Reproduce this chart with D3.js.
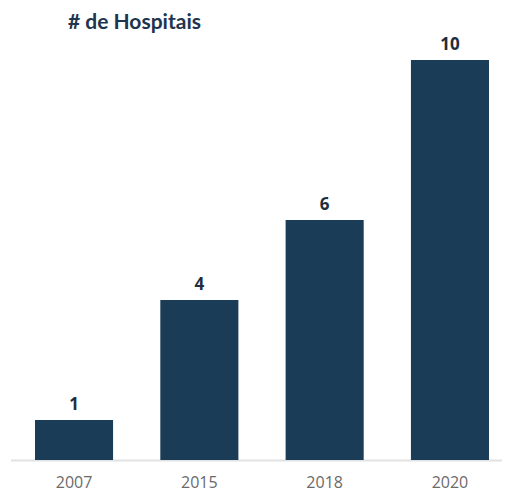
<!DOCTYPE html>
<html><head><meta charset="utf-8">
<script src="https://cdn.jsdelivr.net/npm/d3@7"></script>
<style>body{margin:0;background:#fff}</style>
</head><body>
<svg id="c" width="507" height="493"></svg>
<script>
const categories = ["2007", "2015", "2018", "2020"];
const values = [1, 4, 6, 10];
const title = "# de Hospitais";

const svg = d3.select("#c");
const baseY = 460;
const x = d3.scaleBand().domain(categories).range([11.2, 512.8]).paddingInner(0.377).paddingOuter(0.19);
const y = d3.scaleLinear().domain([0, 10]).range([baseY, 60]);

svg.append("text").attr("x", 68).attr("y", 29)
  .attr("font-family", "Lato").attr("font-weight", 700).attr("font-size", 21)
  .attr("fill", "#1e3550").text(title);

svg.append("line").attr("x1", 11).attr("x2", 502).attr("y1", baseY + 0.5).attr("y2", baseY + 0.5)
  .attr("stroke", "#e2e2e2").attr("stroke-width", 2);

svg.selectAll("rect.bar").data(values).join("rect").attr("class", "bar")
  .attr("x", (d, i) => x(categories[i])).attr("width", x.bandwidth())
  .attr("y", d => y(d)).attr("height", d => baseY - y(d))
  .attr("fill", "#1a3c56");

svg.selectAll("text.val").data(values).join("text").attr("class", "val")
  .attr("x", (d, i) => x(categories[i]) + x.bandwidth() / 2)
  .attr("y", d => y(d) - 10)
  .attr("text-anchor", "middle").attr("font-family", "Open Sans").attr("font-weight", 700)
  .attr("font-size", 17).attr("fill", "#1f2d3d").text(d => d);

const axis = d3.axisBottom(x).tickSize(0).tickPadding(0);
const g = svg.append("g").attr("transform", `translate(0,${baseY})`).call(axis);
g.select(".domain").remove();
g.selectAll("text").attr("font-family", "Open Sans").attr("font-size", 16).attr("fill", "#6a6a6a")
  .attr("dy", null).attr("y", 28);
</script>
</body></html>
